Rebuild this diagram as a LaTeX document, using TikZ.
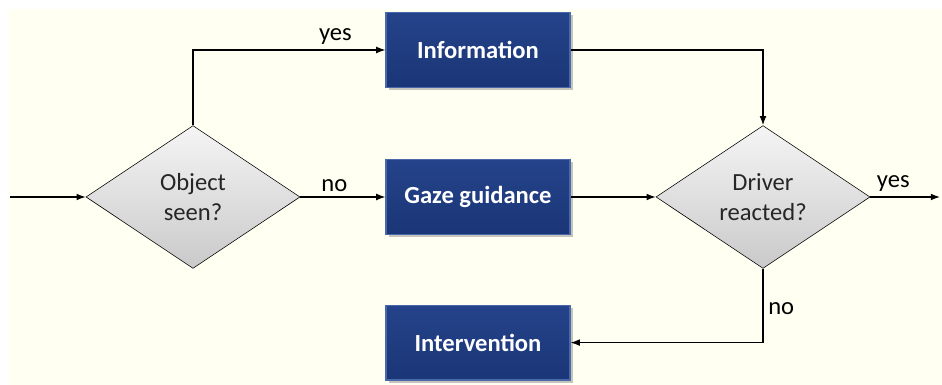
\documentclass[tikz,border=0pt]{standalone}
\usepackage{fontspec}
\setmainfont{Carlito}
\usepackage{xcolor}
\usepackage{tikz}
\usetikzlibrary{arrows.meta,positioning,shapes.geometric,shadows}

\definecolor{paper}{HTML}{FFFFF2}
\definecolor{boxblue}{HTML}{1A3677}
\definecolor{boxtop}{HTML}{25438A}
\definecolor{boxrim}{HTML}{4A69A8}

\begin{document}
\begin{tikzpicture}[
    x=1cm,y=1cm,
    action/.style={draw=boxrim,line width=0.8pt,top color=boxtop,bottom color=boxblue,
                   minimum width=46mm,minimum height=18.7mm,text=white,
                   font=\fontsize{17.5}{21}\selectfont\bfseries,
                   drop shadow={shadow xshift=2pt,shadow yshift=-2pt,opacity=0.45}},
    decision/.style={draw,diamond,inner sep=0pt,minimum width=53.5mm,minimum height=35.7mm,
                     top color=gray!8,bottom color=gray!42,align=center,text=black!85,
                     font=\fontsize{17.5}{21}\selectfont},
    lbl/.style={font=\fontsize{17.5}{21}\selectfont,text=black},
    arrow/.style={-{Latex[length=2.3mm,width=1.7mm]},line width=0.9pt}
]
\useasboundingbox (0,0) rectangle (23.55,9.625);
\fill[paper] (0.225,0) rectangle (23.55,9.4);

\node[decision] (seen) at (4.825,4.7) {Object\\seen?};
\node[action] (info) at (11.95,8.375) {Information};
\node[action] (gaze) at (11.95,4.7) {Gaze guidance};
\node[action] (interv) at (11.95,1.06) {Intervention};
\node[decision] (react) at (19.075,4.7) {Driver\\reacted?};
\coordinate (start) at (0.25,4.7);
\coordinate (done) at (23.5,4.7);

\draw[arrow] (start) -- (seen);
\draw[arrow] (seen.north) |- node[lbl,pos=0.87,above] {yes} (info);
\draw[arrow] (seen) -- node[lbl,pos=0.4,above] {no} (gaze);
\draw[arrow] (info) -| (react.north);
\draw[arrow] (gaze) -- (react);
\draw[arrow] (react) -- node[lbl,pos=0.33,above] {yes} (done);
\draw[arrow] (react.south) |- node[lbl,pos=0.27,right] {no} (interv);
\end{tikzpicture}
\end{document}
